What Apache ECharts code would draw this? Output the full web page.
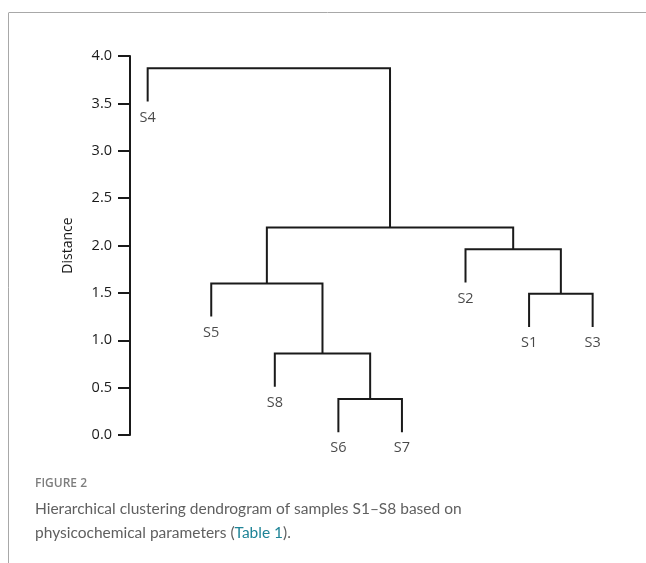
<!DOCTYPE html>
<html>
<head>
<meta charset="utf-8">
<script src="https://cdn.jsdelivr.net/npm/echarts@6/dist/echarts.min.js"></script>
<style>
  html, body { margin: 0; padding: 0; background: #fff; }
  #chart { width: 646px; height: 563px; }
</style>
</head>
<body>
<div id="chart"></div>
<script>
// leaf order along the bottom, left to right
const leaves = ['S4', 'S5', 'S8', 'S6', 'S7', 'S2', 'S1', 'S3'];
// merges in order: [left child, right child, distance]; result of merge k is named 'C' + (k + 1)
const merges = [
  ['S6', 'S7', 0.38],
  ['S1', 'S3', 1.49],
  ['S8', 'C1', 0.86],
  ['S5', 'C3', 1.60],
  ['S2', 'C2', 1.96],
  ['C4', 'C5', 2.19],
  ['S4', 'C6', 3.87]
];
// how far each leaf stem hangs below its merge
const leafStem = 0.35;

// build positions: leaves at their index, clusters at the middle of their children
const nodeX = {};
const nodeY = {};
leaves.forEach((name, i) => { nodeX[name] = i; });

const segments = [];
const leafPoints = [];
merges.forEach((m, k) => {
  const [a, b, h] = m;
  const bottom = (n) => (n in nodeY ? nodeY[n] : h - leafStem);
  segments.push({
    coords: [
      [nodeX[a], bottom(a)],
      [nodeX[a], h],
      [nodeX[b], h],
      [nodeX[b], bottom(b)]
    ]
  });
  [a, b].forEach((n) => {
    if (!(n in nodeY)) leafPoints.push({ name: n, value: [nodeX[n], h - leafStem] });
  });
  const id = 'C' + (k + 1);
  nodeX[id] = (nodeX[a] + nodeX[b]) / 2;
  nodeY[id] = h;
});

const chart = echarts.init(document.getElementById('chart'));
const option = {
  animation: false,
  backgroundColor: '#fff',
  graphic: [
    { type: 'line', shape: { x1: 9, y1: 12.5, x2: 646, y2: 12.5 }, style: { stroke: '#a8a8a8', lineWidth: 1 } },
    { type: 'line', shape: { x1: 8.5, y1: 12.5, x2: 8.5, y2: 563 }, style: { stroke: '#a8a8a8', lineWidth: 1 } }
  ],
  title: [
    {
      text: 'FIGURE 2',
      left: 35,
      top: 478,
      padding: 0,
      textStyle: { fontSize: 12, fontWeight: 600, color: '#7d7d7d', fontFamily: 'Open Sans' }
    },
    {
      text: 'Hierarchical clustering dendrogram of samples S1–S8 based on\nphysicochemical parameters ({t|Table 1}).',
      left: 35,
      top: 497,
      padding: 0,
      textStyle: {
        fontSize: 15.5,
        lineHeight: 24,
        fontWeight: 'normal',
        color: '#606060',
        fontFamily: 'Lato',
        rich: { t: { color: '#1f8497', fontSize: 15.5, lineHeight: 24, fontFamily: 'Lato' } }
      }
    }
  ],
  grid: { left: 130, right: 36, top: 56, bottom: 128 },
  xAxis: { type: 'value', min: -0.278, max: 7.273, show: false },
  yAxis: {
    type: 'value',
    min: 0,
    max: 4,
    interval: 0.5,
    name: 'Distance',
    nameLocation: 'middle',
    nameGap: 55,
    nameTextStyle: { fontSize: 14, color: '#1a1a1a', fontFamily: 'Open Sans' },
    axisLine: { show: true, onZero: false, lineStyle: { color: '#1a1a1a', width: 2 } },
    axisTick: { show: true, length: 12, lineStyle: { color: '#1a1a1a', width: 2 } },
    axisLabel: {
      margin: 18,
      fontSize: 14.5,
      color: '#1a1a1a',
      fontFamily: 'Open Sans',
      formatter: (v) => v.toFixed(1)
    },
    splitLine: { show: false }
  },
  series: [
    {
      type: 'lines',
      coordinateSystem: 'cartesian2d',
      polyline: true,
      silent: true,
      lineStyle: { color: '#1a1a1a', width: 2, opacity: 1 },
      data: segments
    },
    {
      type: 'scatter',
      symbolSize: 1,
      itemStyle: { color: 'rgba(0,0,0,0)' },
      silent: true,
      label: {
        show: true,
        position: 'bottom',
        distance: 8,
        formatter: '{b}',
        fontSize: 14.5,
        color: '#1a1a1a',
        fontFamily: 'Open Sans'
      },
      data: leafPoints
    }
  ]
};
chart.setOption(option);
</script>
</body>
</html>
